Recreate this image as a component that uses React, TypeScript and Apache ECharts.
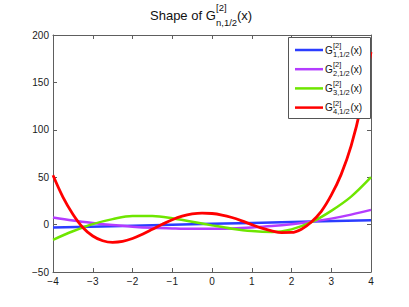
import React, { useEffect, useRef } from "react";
import * as echarts from "echarts";

const xHalf = [-4, -3.5, -3, -2.5, -2, -1.5, -1, -0.5, 0, 0.5, 1, 1.5, 2, 2.5, 3, 3.5, 4];
const xQuarter = [-4, -3.75, -3.5, -3.25, -3, -2.75, -2.5, -2.25, -2, -1.75, -1.5, -1.25, -1, -0.75, -0.5, -0.25, 0, 0.25, 0.5, 0.75, 1, 1.25, 1.5, 1.75, 2, 2.25, 2.5, 2.75, 3, 3.25, 3.5, 3.75, 4];
const blueX = [-4, -2, 0, 2, 4];
const blueY = [-3.1, -1.2, 0.8, 2.7, 4.6];
const purpleY = [7.5, 4.3, 1.7, -0.5, -2.2, -3.4, -4.1, -4.5, -4.5, -4, -3, -1.6, 0.4, 3, 6.3, 10.5, 15.5];
const greenY = [-16, -7, 0.5, 5.8, 9, 9, 6.8, 3, -0.8, -4.3, -6.8, -7.8, -5, 2.5, 14.5, 29.5, 50];
const redY = [52, 29, 11, -3, -12, -17, -18.7, -17.8, -14.7, -10.2, -5, 0.3, 5.2, 8.9, 11.2, 12.1, 11.7, 10.1, 7.5, 4, 0, -3.7, -6.6, -8.4, -8.3, -4.8, 2.8, 14, 31, 53, 83, 125, 182];

const subscripts = ["1,1/2", "2,1/2", "3,1/2", "4,1/2"];
const colors = ["#2b3dff", "#b43cff", "#6ee600", "#ff0000"];
const FONT = "'Liberation Sans', Arial, Helvetica, sans-serif";

const fmt = (v: number) => (v < 0 ? "\u2212" + Math.abs(v) : String(v));

export default function App() {
  const ref = useRef<HTMLDivElement>(null);
  useEffect(() => {
    if (!ref.current) return;
    const chart = echarts.init(ref.current, undefined, { renderer: "svg" });
    const seriesData = [
      blueX.map((x, i) => [x, blueY[i]]),
      xHalf.map((x, i) => [x, purpleY[i]]),
      xHalf.map((x, i) => [x, greenY[i]]),
      xQuarter.map((x, i) => [x, redY[i]]),
    ];
    const axisColor = "#5e5e5e";
    const baseX = {
      type: "value" as const,
      min: -4,
      max: 4,
      interval: 1,
      splitLine: { show: false },
      axisLine: { show: true, onZero: false, lineStyle: { color: axisColor, width: 1 } },
      axisTick: { show: true, inside: true, length: 4, lineStyle: { color: axisColor } },
    };
    const baseY = {
      type: "value" as const,
      min: -50,
      max: 200,
      interval: 50,
      splitLine: { show: false },
      axisLine: { show: true, onZero: false, lineStyle: { color: axisColor, width: 1 } },
      axisTick: { show: true, inside: true, length: 4, lineStyle: { color: axisColor } },
    };
    const legendItems: any[] = [];
    const rowY0 = 50;
    const rowStep = 19.2;
    subscripts.forEach((s, i) => {
      const cy = rowY0 + rowStep * i;
      legendItems.push(
        { type: "line", shape: { x1: 295, y1: cy, x2: 323, y2: cy }, style: { stroke: colors[i], lineWidth: 2.5 }, z: 101 },
        { type: "text", x: 325, y: cy, style: { text: "G", font: `10px ${FONT}`, fill: "#111", verticalAlign: "middle", align: "left" }, z: 101 },
        { type: "text", x: 333, y: cy - 4.5, style: { text: "[2]", font: `7.5px ${FONT}`, fill: "#111", verticalAlign: "middle", align: "left" }, z: 101 },
        { type: "text", x: 333, y: cy + 4, style: { text: s, font: `7.5px ${FONT}`, fill: "#111", verticalAlign: "middle", align: "left" }, z: 101 },
        { type: "text", x: 350.5, y: cy, style: { text: "(x)", font: `10px ${FONT}`, fill: "#111", verticalAlign: "middle", align: "left" }, z: 101 }
      );
    });
    chart.setOption({
      animation: false,
      backgroundColor: "#ffffff",
      grid: { left: 53, right: 38, top: 35, bottom: 35 },
      xAxis: [
        {
          ...baseX,
          position: "bottom",
          axisLabel: { show: true, margin: 4, fontSize: 10, fontFamily: FONT, color: "#1a1a1a", formatter: fmt, showMinLabel: true, showMaxLabel: true },
        },
        { ...baseX, position: "top", axisLabel: { show: false } },
      ],
      yAxis: [
        {
          ...baseY,
          position: "left",
          axisLabel: { show: true, margin: 4, fontSize: 10, fontFamily: FONT, color: "#1a1a1a", formatter: fmt, showMinLabel: true, showMaxLabel: true },
        },
        { ...baseY, position: "right", axisLabel: { show: false } },
      ],
      series: seriesData.map((d, i) => ({
        type: "line",
        name: "G[2]" + subscripts[i] + "(x)",
        xAxisIndex: 0,
        yAxisIndex: 0,
        data: d,
        smooth: 0.35,
        showSymbol: false,
        symbol: "none",
        lineStyle: { color: colors[i], width: i === 3 ? 2.8 : 2.5 },
        itemStyle: { color: colors[i] },
        z: 2 + i,
      })),
      graphic: [
        { type: "text", x: 150, y: 15.5, style: { text: "Shape of G", font: `13px ${FONT}`, fill: "#111", verticalAlign: "middle", align: "left" } },
        { type: "text", x: 216, y: 7, style: { text: "[2]", font: `9.5px ${FONT}`, fill: "#111", verticalAlign: "middle", align: "left" } },
        { type: "text", x: 216, y: 22.5, style: { text: "n,1/2", font: `9.5px ${FONT}`, fill: "#111", verticalAlign: "middle", align: "left" } },
        { type: "text", x: 237, y: 15.5, style: { text: "(x)", font: `13px ${FONT}`, fill: "#111", verticalAlign: "middle", align: "left" } },
        { type: "rect", shape: { x: 288.5, y: 37.5, width: 82, height: 81 }, style: { fill: "#ffffff", stroke: "#555", lineWidth: 1 }, z: 100 },
        ...legendItems,
      ],
    });
    return () => chart.dispose();
  }, []);
  return <div ref={ref} style={{ position: "fixed", left: 0, top: 0, width: 409, height: 307 }} />;
}
